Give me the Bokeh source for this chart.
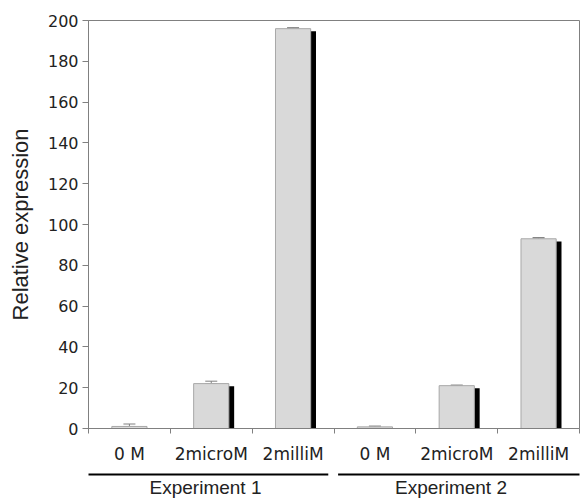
from bokeh.plotting import figure
from bokeh.models import (Range1d, FixedTicker, ColumnDataSource, Whisker, TeeHead,
                          CustomJSTickFormatter)
from bokeh.layouts import column
from bokeh.transform import dodge
from bokeh.embed import file_html
from bokeh.resources import INLINE
from bokeh.core.properties import value

# ---- data ----
conditions = ["0 M", "2microM", "2milliM", "0 M", "2microM", "2milliM"]
experiments = ["Experiment 1", "Experiment 2"]
expression = [1.0, 22.0, 196.0, 0.8, 21.0, 93.0]
error = [1.2, 1.2, 0.5, 0.4, 0.3, 0.6]
y_ticks = [0, 20, 40, 60, 80, 100, 120, 140, 160, 180, 200]

# ---- layout constants ----
W = 580
H1, H2 = 466, 33
FRAME_LEFT, FRAME_RIGHT = 88, 1
N = len(conditions)
GROUP = 3

pos = [i + 0.5 for i in range(N)]
src = ColumnDataSource(dict(
    x=pos,
    top=expression,
    upper=[v + e for v, e in zip(expression, error)],
    lower=expression,
))

AX = "#808080"
TXT = "#222222"

p = figure(width=W, height=H1, x_range=Range1d(0, N), y_range=Range1d(0, 200),
           output_backend="svg", toolbar_location=None,
           min_border_left=FRAME_LEFT, min_border_right=FRAME_RIGHT,
           min_border_top=20, min_border_bottom=38)
p.xgrid.visible = False
p.ygrid.visible = False
p.outline_line_color = AX
p.background_fill_color = "white"
p.border_fill_color = "white"

# shadow bars
p.vbar(x=dodge("x", 0.065), top=dodge("top", -1.3), bottom=0, width=0.43,
       source=src, fill_color="black", line_color=None)
# main bars
p.vbar(x="x", top="top", bottom=0, width=0.43, source=src,
       fill_color="#d9d9d9", line_color="#a8a8a8", line_width=1)

wh = Whisker(source=src, base="x", upper="upper", lower="lower",
             line_color=AX, line_width=1,
             upper_head=TeeHead(size=12, line_color=AX, line_width=1),
             lower_head=TeeHead(size=12, line_color="#a8a8a8", line_width=1))
p.add_layout(wh)

# y axis
ya = p.yaxis[0]
ya.ticker = FixedTicker(ticks=y_ticks, minor_ticks=[])
ya.axis_line_color = AX
ya.major_tick_line_color = AX
ya.major_tick_out = 6
ya.major_tick_in = 0
ya.minor_tick_line_color = None
ya.major_label_text_font = "DejaVu Sans"
ya.major_label_text_font_size = "16px"
ya.major_label_text_color = TXT
ya.major_label_standoff = 4
ya.axis_label = "Relative expression"
ya.axis_label_text_font = "Liberation Sans"
ya.axis_label_text_font_size = "22px"
ya.axis_label_text_font_style = "normal"
ya.axis_label_text_color = TXT
ya.axis_label_standoff = 12

# x axis
xa = p.xaxis[0]
xa.ticker = FixedTicker(ticks=pos, minor_ticks=list(range(N + 1)))
xa.formatter = CustomJSTickFormatter(args=dict(labels=conditions),
                                     code="return labels[Math.floor(tick)];")
xa.axis_line_color = AX
xa.major_tick_out = 0
xa.major_tick_in = 0
xa.major_tick_line_color = None
xa.minor_tick_out = 5
xa.minor_tick_in = 0
xa.minor_tick_line_color = AX
xa.major_label_text_font = "DejaVu Sans"
xa.major_label_text_font_size = "17px"
xa.major_label_text_color = TXT
xa.major_label_standoff = 10

# ---- experiment group strip (shares the x scale of the chart) ----
q = figure(width=W, height=H2, x_range=p.x_range, y_range=Range1d(0, H2),
           output_backend="svg", toolbar_location=None,
           min_border_left=FRAME_LEFT, min_border_right=FRAME_RIGHT,
           min_border_top=0, min_border_bottom=0)
q.axis.visible = False
q.xgrid.visible = False
q.ygrid.visible = False
q.outline_line_color = None
q.background_fill_color = "white"
q.border_fill_color = "white"

g0 = [g * GROUP for g in range(len(experiments))]
g1 = [(g + 1) * GROUP for g in range(len(experiments))]
pad_l = [-0.07, 0.05]
pad_r = [-0.07, 0.02]
gsrc = ColumnDataSource(dict(
    x0=[a + b for a, b in zip(g0, pad_l)],
    x1=[a + b for a, b in zip(g1, pad_r)],
    xc=[(a + b) / 2 - 0.07 for a, b in zip(g0, g1)],
    name=experiments,
))
q.segment(x0="x0", x1="x1", y0=H2 - 8, y1=H2 - 8, source=gsrc,
          line_color="black", line_width=2)
q.text(x="xc", y=12, text="name", source=gsrc, text_align="center",
       text_baseline="middle", text_font=value("Liberation Sans"),
       text_font_size="19px", text_color=TXT)

layout = column(p, q, spacing=0)
open("out.html", "w").write(file_html(layout, INLINE))
